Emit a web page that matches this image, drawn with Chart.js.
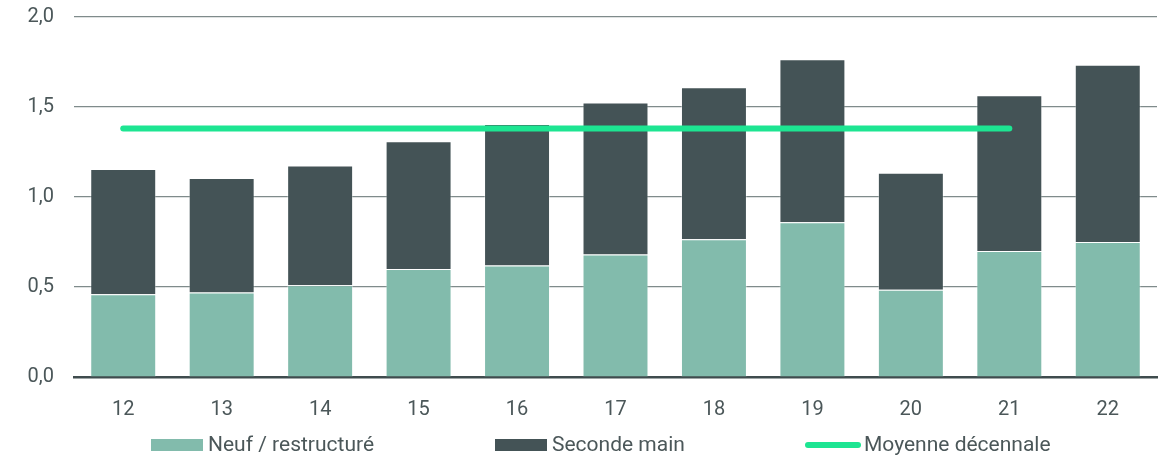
<!DOCTYPE html>
<html>
<head>
<meta charset="utf-8">
<script src="https://cdn.jsdelivr.net/npm/chart.js@4.4.0/dist/chart.umd.min.js"></script>
<style>
  html, body { margin: 0; padding: 0; background: #ffffff; }
  #wrap { width: 1170px; height: 456px; }
</style>
</head>
<body>
<div id="wrap"><canvas id="chart"></canvas></div>
<script>
// Years (20xx) on the x axis
const years = ["12", "13", "14", "15", "16", "17", "18", "19", "20", "21", "22"];
// New / restructured part of each bar
const neuf = [0.46, 0.47, 0.51, 0.60, 0.62, 0.68, 0.765, 0.86, 0.485, 0.70, 0.75];
// Second-hand part, stacked on top
const secondeMain = [0.695, 0.635, 0.665, 0.71, 0.785, 0.845, 0.845, 0.905, 0.65, 0.865, 0.985];
// Ten-year average, drawn from 12 to 21
const moyenne = [1.38, 1.38, 1.38, 1.38, 1.38, 1.38, 1.38, 1.38, 1.38, 1.38, null];
const seriesNames = ["Neuf / restructuré", "Seconde main", "Moyenne décennale"];

const palet = {
    light: "#82bbac",
    dark: "#445356",
    green: "#1de592",
    text: "#4b5759",
    grid: "#7f8b8b"
};
const fontFamily = "Roboto, 'DejaVu Sans', sans-serif";

// Legend drawn by hand so the items can sit far apart without a tall legend box
const bottomLegend = {
    id: "bottomLegend",
    afterDraw(chart) {
        const ctx = chart.ctx;
        const y = 445;
        const items = [
            { x: 151, kind: "box", color: palet.light, text: seriesNames[0] },
            { x: 495, kind: "box", color: palet.dark, text: seriesNames[1] },
            { x: 805, kind: "line", color: palet.green, text: seriesNames[2] }
        ];
        ctx.save();
        ctx.font = "21px " + fontFamily;
        ctx.textBaseline = "middle";
        ctx.fillStyle = palet.text;
        items.forEach(item => {
            if (item.kind === "box") {
                ctx.fillStyle = item.color;
                ctx.fillRect(item.x, y - 6, 52, 12);
                ctx.fillStyle = palet.text;
                ctx.fillText(item.text, item.x + 57, y + 1);
            } else {
                ctx.strokeStyle = item.color;
                ctx.lineWidth = 6;
                ctx.lineCap = "round";
                ctx.beginPath();
                ctx.moveTo(item.x + 3, y);
                ctx.lineTo(item.x + 53, y);
                ctx.stroke();
                ctx.fillStyle = palet.text;
                ctx.fillText(item.text, item.x + 59, y + 1);
            }
        });
        ctx.restore();
    }
};

new Chart("chart", {
    type: "bar",
    data: {
        labels: years,
        datasets: [
            {
                label: seriesNames[2],
                type: "line",
                data: moyenne,
                stack: "avg",
                borderColor: palet.green,
                borderWidth: 6,
                borderCapStyle: "round",
                pointRadius: 0,
                fill: false,
                order: 0
            },
            {
                label: seriesNames[0],
                data: neuf,
                backgroundColor: palet.light,
                borderColor: "rgba(255,255,255,0.35)",
                borderWidth: 1,
                categoryPercentage: 0.67,
                barPercentage: 1,
                order: 1
            },
            {
                label: seriesNames[1],
                data: secondeMain,
                backgroundColor: palet.dark,
                borderColor: "rgba(255,255,255,0.35)",
                borderWidth: 1,
                categoryPercentage: 0.67,
                barPercentage: 1,
                order: 1
            }
        ]
    },
    options: {
        responsive: true,
        maintainAspectRatio: false,
        animation: false,
        layout: { padding: { top: 17, right: 13, bottom: 0, left: 0 } },
        plugins: {
            legend: { display: false },
            tooltip: { enabled: false }
        },
        scales: {
            x: {
                stacked: true,
                grid: { display: false },
                border: { display: true, color: "#3f4c4e", width: 2.5 },
                ticks: {
                    color: palet.text,
                    font: { family: fontFamily, size: 20 },
                    padding: 13
                },
                afterFit: s => { s.height = 79; }
            },
            y: {
                stacked: true,
                min: 0,
                max: 2,
                border: { display: false },
                grid: {
                    color: palet.grid,
                    lineWidth: 1.2,
                    drawTicks: false
                },
                ticks: {
                    stepSize: 0.5,
                    color: palet.text,
                    padding: 20,
                    font: { family: fontFamily, size: 20 },
                    callback: v => v.toFixed(1).replace(".", ",")
                },
                afterFit: s => {
                    s.width = 74;
                    s.paddingTop = 0;
                    s.paddingBottom = 0;
                }
            }
        }
    },
    plugins: [bottomLegend]
});
</script>
</body>
</html>
